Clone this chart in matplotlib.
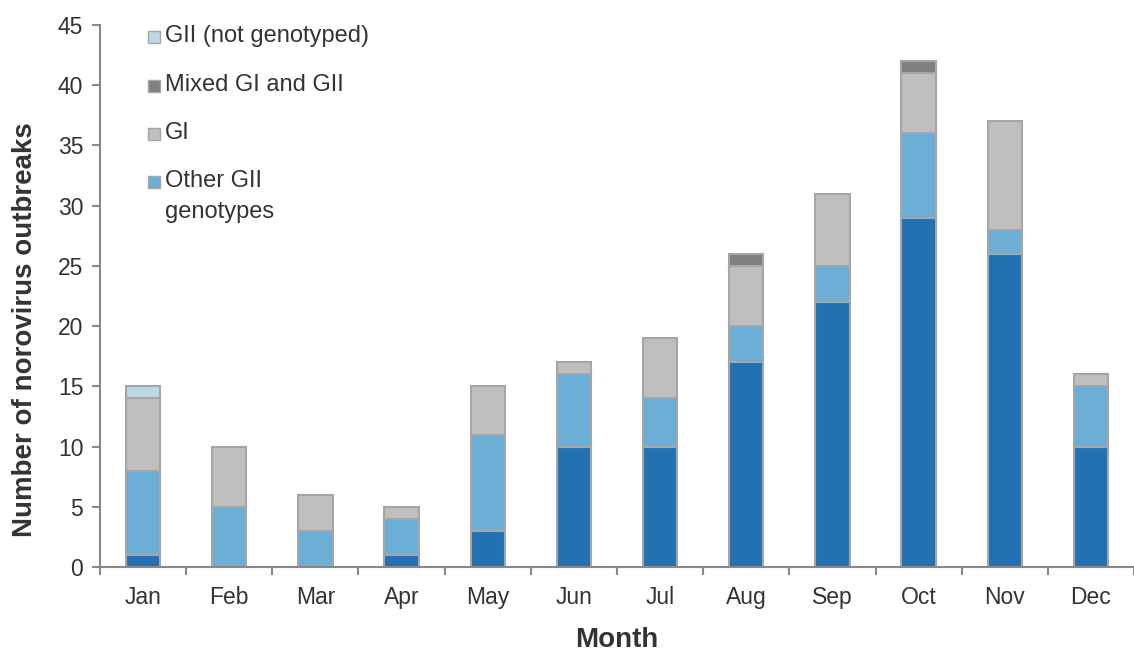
"""
Norovirus outbreaks by month, stacked by genotype group.
"""

import numpy as np
import matplotlib
matplotlib.use("Agg")
import matplotlib.pyplot as plt
from matplotlib.patches import Rectangle

plt.rcParams["font.family"] = ["Liberation Sans", "DejaVu Sans"]

months = ["Jan", "Feb", "Mar", "Apr", "May", "Jun",
          "Jul", "Aug", "Sep", "Oct", "Nov", "Dec"]

gii4           = [1, 0, 0, 1, 3, 10, 10, 17, 22, 29, 26, 10]
other_gii      = [7, 5, 3, 3, 8, 6, 4, 3, 3, 7, 2, 5]
gi             = [6, 5, 3, 1, 4, 1, 5, 5, 6, 5, 9, 1]
mixed          = [0, 0, 0, 0, 0, 0, 0, 1, 0, 1, 0, 0]
gii_not_typed  = [1, 0, 0, 0, 0, 0, 0, 0, 0, 0, 0, 0]

series = [
    ("GII.4",               gii4,          "#2271B3"),
    ("Other GII\ngenotypes", other_gii,    "#6BAED6"),
    ("GI",                  gi,            "#BFBFBF"),
    ("Mixed GI and GII",    mixed,         "#808080"),
    ("GII (not genotyped)", gii_not_typed, "#BDD7E7"),
]

edge = "#A6A6A6"
axis_col = "#888888"
text_col = "#333333"

W, H = 1134, 653
fig = plt.figure(figsize=(W / 100, H / 100), dpi=100)
ax = fig.add_axes([100 / W, 86 / H, 1 - 100 / W, 542 / H])

x = np.arange(len(months))
bottom = np.zeros(len(months))
for name, vals, col in series:
    vals = np.array(vals, dtype=float)
    mask = vals > 0
    ax.bar(x[mask], vals[mask], bottom=bottom[mask], width=0.4,
           color=col, edgecolor=edge, linewidth=1.5, zorder=2)
    bottom += vals

ax.set_xlim(-0.5, len(months) - 0.5)
ax.set_ylim(0, 45)
ax.set_yticks(range(0, 46, 5))
ax.set_xticks(x)
ax.set_xticklabels(months)
ax.set_xticks(np.arange(-0.5, len(months), 1), minor=True)
ax.tick_params(axis="x", which="major", length=0, pad=14,
               labelsize=16.5, labelcolor=text_col)
ax.tick_params(axis="x", which="minor", length=6, width=1.5,
               color=axis_col, direction="out")
ax.tick_params(axis="y", length=6, width=1.5, color=axis_col,
               direction="out", labelsize=16.5, labelcolor=text_col, pad=6)

for s in ["top", "right"]:
    ax.spines[s].set_visible(False)
for s in ["left", "bottom"]:
    ax.spines[s].set_color(axis_col)
    ax.spines[s].set_linewidth(1.5)

ax.set_ylabel("Number of norovirus outbreaks", fontsize=20,
              fontweight="bold", color=text_col, va="center")
ax.yaxis.set_label_coords(-75 / 1034, (567 - 330) / 542)
ax.set_xlabel("Month", fontsize=20, fontweight="bold",
              color=text_col, va="center")
ax.xaxis.set_label_coords(0.5, -(640 - 567) / 542)

# legend drawn by hand so the two-line label keeps its square on line one
leg_y = [37, 86, 134, 182]
for (name, _, col), yy in zip(series[1:][::-1], leg_y):
    fig.patches.append(Rectangle((148 / W, 1 - (yy + 6) / H), 12 / W, 12 / H,
                                 transform=fig.transFigure, facecolor=col,
                                 edgecolor=edge, linewidth=1.0))
    fig.text(165 / W, 1 - (yy - 12) / H, name, fontsize=17, color=text_col,
             va="top", ha="left", linespacing=1.55)

fig.savefig("out.png", dpi=100)
